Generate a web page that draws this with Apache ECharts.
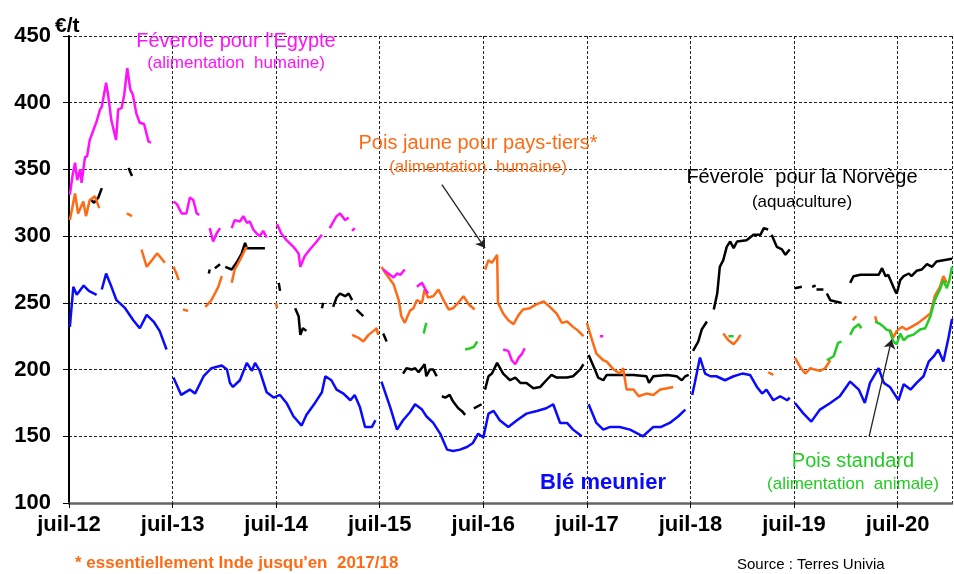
<!DOCTYPE html>
<html>
<head>
<meta charset="utf-8">
<script src="https://cdn.jsdelivr.net/npm/echarts@6/dist/echarts.min.js"></script>
<style>
  body { margin: 0; background: #fff; }
  #chart { width: 954px; height: 574px; }
</style>
</head>
<body>
<div id="chart"></div>
<script>
// x = mois depuis juillet 2012, y = prix en €/t ; null = rupture de série
const tickLabels = ['juil-12', 'juil-13', 'juil-14', 'juil-15', 'juil-16', 'juil-17', 'juil-18', 'juil-19', 'juil-20'];

const bleMeunier = [
  [0.1,232],[0.5,262],[0.9,256],[1.7,263],[2.3,259],[3.2,256],null,
  [3.8,260],[4.3,272],[4.8,264],[5.5,252],[6.5,246],[7.45,237],[8.2,231],[9.0,241],[9.8,236],[10.5,229],[11.3,215],null,
  [12.1,194],[13.0,181],[14.0,185],[14.6,182],[15.6,195],[16.5,201],[17.7,203],[18.3,200],[18.65,190],[19.0,187],[19.8,192],
  [20.6,205],[21.2,199],[21.55,205],[22.1,199],[22.9,183],[23.7,179],[24.45,181],[25.2,175],[26.0,165],[26.95,158],[27.5,166],
  [28.5,175],[29.3,183],[29.7,195],[30.4,192],[31.0,185],[31.8,182],[32.6,177],[33.1,181],[33.7,172],[34.3,157],[35.1,157],[35.5,162],null,
  [36.2,191],[37.2,172],[38.0,155],[38.7,162],[39.5,168],[40.1,174],[40.9,170],[41.4,165],[42.2,160],[43.0,152],[43.8,140],
  [44.5,139],[45.3,140],[46.1,142],[46.8,145],[47.4,152],[48.0,149],[48.6,167],[49.2,169],[49.9,162],[50.9,157],[51.9,162],
  [53.0,167],[54.2,169],[55.3,171],[56.1,174],[56.9,160],[57.7,160],[58.4,155],[59.4,150],null,
  [60.2,174],[61.1,160],[61.9,155],[62.7,157],[63.8,157],[65.0,155],[66.5,150],[67.7,157],[68.6,157],[69.6,160],[70.6,165],[71.4,170],null,
  [72.2,181],[72.5,190],[73.1,209],[73.7,197],[74.3,195],[75.0,195],[76.0,192],[77.0,195],[78.0,197],[78.9,196],[79.7,187],
  [80.3,182],[80.8,185],[81.6,177],[82.4,180],[83.2,177],[83.5,179],null,
  [84.1,175],[85.1,167],[86.0,161],[87.0,170],[88.2,175],[89.3,180],[90.5,191],[91.5,185],[92.2,175],[92.8,190],[93.8,201],
  [94.4,190],[95.1,187],[96.1,177],[96.7,189],[97.5,185],[98.2,190],[99.0,195],[99.6,206],[100.2,210],[100.7,215],[101.3,206],
  [101.9,224],[102.3,238]
];

const poisJaune = [
  [0.1,312],[0.7,332],[1.05,317],[1.66,326],[1.97,315],[2.4,327],[3.0,330],[3.5,321],null,
  [6.7,317],[7.3,315],null,
  [8.4,290],[9.0,277],[9.6,282],[10.2,287],[10.5,285],[11.1,280],null,
  [12.1,277],[12.5,271],[12.7,267],null,
  [13.2,245],[13.8,244],null,
  [15.8,247],[16.5,252],[16.9,257],[17.3,262],[17.7,270],null,
  [18.85,265],[19.2,275],[19.8,282],[20.4,290],[20.6,292],null,
  [24.0,250],[24.1,246],null,
  [32.8,226],[33.5,224],[34.1,221],[34.7,226],[35.3,229],[35.65,231],[35.8,226],null,
  [36.2,277],[36.8,271],[37.6,264],[38.2,252],[38.5,240],[38.9,235],[39.5,244],[39.9,246],[40.3,252],[40.9,250],[41.2,260],
  [41.6,254],[42.2,255],[42.8,260],[43.4,252],[44.0,245],[44.5,246],[45.1,250],[45.7,255],[46.3,249],[47.0,245],null,
  [48.2,275],[48.6,282],[49.0,280],[49.6,286],[49.7,250],[50.3,242],[50.9,237],[51.5,234],[52.1,241],[52.6,245],[53.4,246],
  [54.2,249],[55.0,251],[55.7,247],[56.5,242],[57.1,235],[57.7,236],[58.4,232],[59.0,229],[59.6,225],null,
  [60.0,235],[60.6,222],[61.1,212],[61.9,207],[62.3,206],[63.1,200],[63.8,197],[64.2,201],[64.6,185],[65.4,185],[66.0,180],
  [66.9,182],[67.7,181],[68.5,185],[69.3,186],[70.0,187],null,
  [75.8,227],[76.4,222],[77.0,219],[77.4,222],[77.8,226],null,
  [81.0,198],[81.6,196],null,
  [84.1,209],[84.7,202],[85.3,197],[85.9,201],[86.4,200],[87.0,199],[87.6,201],[88.2,207],null,
  [90.8,237],[91.2,240],null,
  [93.4,240],[93.6,235],null,
  [95.1,230],[95.5,224],[95.9,229],[96.5,232],[97.0,230],[97.6,232],[98.4,235],[99.2,239],[99.8,242],[100.3,255],[100.9,262],
  [101.3,270],[101.7,265]
];

const feveroleNorvege = [
  [2.6,327],[2.9,325],[3.4,329],[3.8,336],null,
  [6.9,351],[7.3,345],null,
  [16.2,272],[16.3,275],null,
  [16.9,276],[17.5,279],null,
  [18.1,277],[18.85,275],[19.4,280],[20.0,287],[20.4,295],[20.6,291],[21.0,291],[22.7,291],null,
  [24.3,265],[24.45,259],null,
  [26.2,246],[26.6,240],[26.8,226],[27.1,231],[27.5,229],null,
  [29.3,246],[29.45,250],null,
  [30.6,247],[31.0,254],[31.4,257],[32.0,255],[32.4,257],[32.8,252],null,
  [33.3,245],[34.1,240],null,
  [36.4,227],[36.8,221],null,
  [38.7,197],[39.1,201],[39.7,200],[40.1,201],[40.5,198],[41.2,204],[41.4,195],[41.8,200],[42.2,200],[42.6,195],null,
  [43.2,180],[43.6,179],[44.1,181],[44.5,176],[45.1,171],[45.5,169],[45.9,166],null,
  [46.9,171],[47.8,174],null,
  [48.2,185],[48.6,195],[49.0,197],[49.6,205],[50.3,197],[51.1,192],[51.7,194],[52.3,190],[53.0,190],[53.8,186],[54.6,187],
  [55.3,192],[55.9,196],[56.5,194],[57.7,194],[58.4,195],[59.2,200],[59.6,204],null,
  [60.2,211],[60.8,202],[61.3,194],[61.9,192],[62.3,196],[63.1,196],[64.4,196],[65.4,196],[66.9,195],[67.2,190],[67.7,195],
  [69.3,196],[70.4,195],[71.0,192],[71.4,195],[71.8,196],null,
  [72.3,214],[72.9,221],[73.3,230],[73.7,234],[73.9,236],null,
  [74.7,245],[75.1,257],[75.4,277],[75.8,282],[76.2,292],[76.6,296],[77.0,291],[77.4,296],[78.5,297],[79.3,301],[80.1,301],
  [80.5,306],[81.0,305],null,
  [81.4,301],[82.0,292],[82.6,290],[83.0,286],[83.5,290],null,
  [84.1,261],[84.9,262],null,
  [86.1,262],[86.5,263],null,
  [86.6,260],[87.4,260],null,
  [87.8,257],[88.2,252],[88.8,251],[89.5,250],null,
  [90.5,265],[90.9,270],[91.7,271],[92.8,271],[93.8,271],[94.2,276],[94.6,270],[94.9,271],[95.3,265],[95.7,259],[95.9,257],
  [96.3,267],[96.7,270],[97.3,272],[97.6,270],[98.2,274],[98.8,275],[99.4,279],[100.0,277],[100.5,281],[101.3,282],[102.3,283]
];

const feveroleEgypte = [
  [0.1,331],[0.4,345],[0.7,355],[0.95,342],[1.3,350],[1.46,340],[1.85,359],[2.1,360],[2.4,372],[2.8,379],[3.2,386],[3.6,395],
  [3.8,397],[4.3,415],[4.55,405],[4.9,387],[5.45,372],[5.7,395],[6.1,396],[6.4,406],[6.75,426],[7.1,410],[7.4,406],[7.8,392],
  [8.2,385],[8.7,384],[9.2,371],[9.5,370],null,
  [12.1,326],[12.5,324],[13.05,317],[13.6,317],[14.0,329],[14.4,327],[14.8,317],[15.1,316],null,
  [16.3,306],[16.7,296],[17.1,302],[17.5,306],null,
  [18.85,306],[19.2,312],[19.8,311],[20.2,315],[20.6,310],[20.95,311],[21.35,305],[21.75,302],[22.1,300],[22.5,304],[22.9,299],null,
  [24.1,309],[24.6,302],[25.2,297],[26.0,292],[26.6,287],[26.8,277],[27.3,285],[27.9,290],[28.7,296],[29.3,301],null,
  [30.2,306],[31.0,315],[31.4,317],[32.0,312],[32.4,314],null,
  [32.8,304],[33.1,306],null,
  [36.4,275],[37.0,272],[37.6,269],[38.0,272],[38.4,271],[38.9,275],null,
  [40.3,262],[40.9,265],[41.3,260],[41.6,257],null,
  [50.3,215],[50.9,214],[51.3,207],[51.7,204],[52.1,209],[52.5,212],[52.8,216],null,
  [61.5,225],[61.9,225]
];

const poisStandard = [
  [41.1,227],[41.2,230],[41.4,235],null,
  [45.9,215],[46.5,216],[46.9,217],[47.3,221],null,
  [76.4,225],[77.0,225],null,
  [87.8,207],[88.6,210],[89.1,220],[89.5,221],null,
  [90.5,226],[90.9,231],[91.5,234],[91.8,231],null,
  [93.4,236],[93.6,237],[94.0,234],[94.4,232],[94.7,230],[95.1,229],[95.5,221],[95.9,219],[96.3,227],[96.7,222],[97.2,225],
  [97.8,226],[98.6,230],[99.2,231],[99.8,240],[100.3,252],[100.9,260],[101.3,267],[101.7,261],[102.0,267],[102.3,277]
];

const FONT = 'Liberation Sans, Arial, sans-serif';

// null -> point vide pour couper la ligne
function toData(pts) {
    return pts.map((p) => p === null ? ['-', '-'] : p);
}

function lineSeries(name, pts, color, extra) {
    return Object.assign({
        name,
        type: 'line',
        data: toData(pts),
        showSymbol: false,
        symbol: 'none',
        connectNulls: false,
        lineStyle: { color, width: 2.5 },
        z: 3
    }, extra || {});
}

function label(text, x, y, color, size, weight, align) {
    return {
        type: 'text',
        x, y,
        z: 10,
        style: {
            text,
            fill: color,
            font: `${weight || 'normal'} ${size}px ${FONT}`,
            align: align || 'center',
            verticalAlign: 'middle'
        }
    };
}

const chart = echarts.init(document.getElementById('chart'), null, { renderer: 'canvas' });
const gridLine = { show: true, lineStyle: { color: '#222', width: 1, type: [3, 2] } };

chart.setOption({
    animation: false,
    backgroundColor: '#fff',
    grid: { left: 69, right: 2, top: 36, bottom: 71 },
    xAxis: {
        type: 'value',
        min: 0,
        max: 102.3,
        interval: 12,
        axisLine: { show: true, lineStyle: { color: '#666', width: 2.5 } },
        axisTick: { show: true, length: 5, lineStyle: { color: '#000', width: 1 } },
        splitLine: gridLine,
        axisLabel: {
            margin: 11,
            showMaxLabel: false,
            color: '#000',
            fontFamily: FONT,
            fontWeight: 'bold',
            fontSize: 22,
            formatter: (v) => tickLabels[Math.round(v / 12)] || ''
        }
    },
    yAxis: {
        type: 'value',
        min: 100,
        max: 450,
        interval: 50,
        axisLine: { show: true, lineStyle: { color: '#000', width: 2 } },
        axisTick: { show: true, length: 6, lineStyle: { color: '#000' } },
        splitLine: gridLine,
        axisLabel: {
            margin: 18,
            color: '#000',
            fontFamily: FONT,
            fontWeight: 'bold',
            fontSize: 22
        }
    },
    series: [
        lineSeries('Blé meunier', bleMeunier, '#0a0aff', {
            markLine: {
                silent: true,
                symbol: ['none', 'arrow'],
                symbolSize: 9,
                label: { show: false },
                lineStyle: { color: '#222', width: 1.3, type: 'solid' },
                data: [
                    [{ coord: [43.2, 338.6] }, { coord: [48.2, 291.1] }],
                    [{ coord: [92.7, 149.9] }, { coord: [95.3, 222.4] }]
                ]
            }
        }),
        lineSeries('Féverole pour la Norvège', feveroleNorvege, '#000000'),
        lineSeries('Pois jaune pour pays-tiers', poisJaune, '#ff6a14'),
        lineSeries('Féverole pour l\'Egypte', feveroleEgypte, '#ff10ff'),
        lineSeries('Pois standard', poisStandard, '#22cc22')
    ],
    graphic: [
        label('€/t', 55, 26, '#000', 21, 'bold', 'left'),
        label('Féverole pour l\'Egypte', 236, 41, '#ff10ff', 20),
        label('(alimentation  humaine)', 236, 63, '#ff10ff', 17),
        label('Pois jaune pour pays-tiers*', 478, 143, '#ff6a14', 20),
        label('(alimentation  humaine)', 478, 167, '#ff6a14', 17),
        label('Féverole  pour la Norvège', 802, 177, '#000', 20),
        label('(aquaculture)', 802, 202, '#000', 17),
        label('Blé meunier', 603, 483, '#0a0aff', 22, 'bold'),
        label('Pois standard', 853, 461, '#22cc22', 20),
        label('(alimentation  animale)', 853, 484, '#22cc22', 17),
        label('* essentiellement Inde jusqu\'en  2017/18', 75, 563, '#ff6a14', 17, 'bold', 'left'),
        label('Source : Terres Univia', 737, 565, '#000', 15, 'normal', 'left')
    ]
});
</script>
</body>
</html>
